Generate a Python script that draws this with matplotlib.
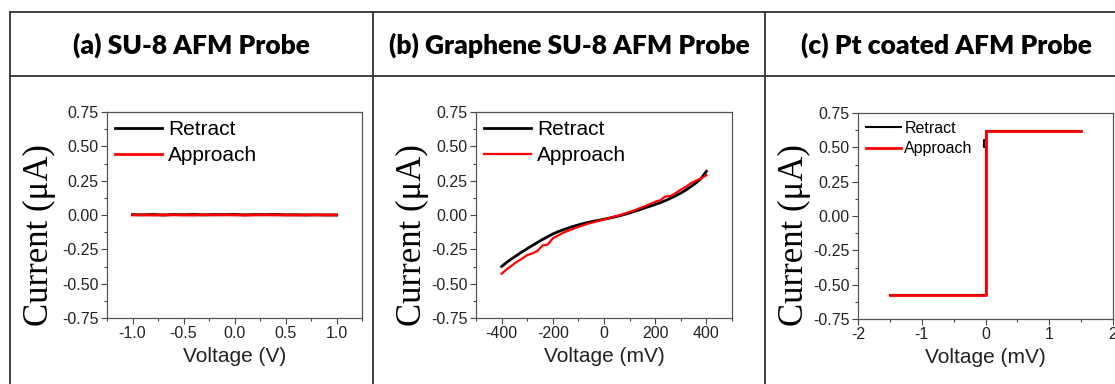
import numpy as np
import matplotlib
matplotlib.use("Agg")
import matplotlib.pyplot as plt
from matplotlib.lines import Line2D
from matplotlib.ticker import MultipleLocator, AutoMinorLocator

plt.rcParams["font.family"] = ["Liberation Sans", "DejaVu Sans"]
plt.rcParams["axes.unicode_minus"] = False

# --- data ---
titles = ["(a) SU-8 AFM Probe", "(b) Graphene SU-8 AFM Probe", "(c) Pt coated AFM Probe"]
xlabels = ["Voltage (V)", "Voltage (mV)", "Voltage (mV)"]

# (a) SU-8 probe: flat, essentially zero current
a_v = [-1.0, -0.9, -0.8, -0.7, -0.6, -0.5, -0.4, -0.3, -0.2, -0.1, 0.0,
       0.1, 0.2, 0.3, 0.4, 0.5, 0.6, 0.7, 0.8, 0.9, 1.0]
a_retract = [0.003, 0.001, 0.004, 0.000, 0.003, 0.002, 0.004, 0.001, 0.003, 0.002, 0.004,
             0.001, 0.003, 0.002, 0.004, 0.001, 0.002, 0.000, 0.001, 0.000, 0.000]
a_approach = [0.000, 0.001, -0.001, 0.000, 0.001, 0.000, -0.001, 0.001, 0.000, 0.001, 0.000,
              -0.001, 0.000, 0.001, 0.000, 0.000, -0.001, 0.000, 0.001, 0.000, 0.000]

# (b) Graphene SU-8 probe
b_v = list(range(-400, 401, 20))
b_retract = [-0.375, -0.345, -0.318, -0.293, -0.268, -0.245, -0.222, -0.200, -0.178, -0.158,
             -0.138, -0.122, -0.108, -0.095, -0.083, -0.072, -0.062, -0.053, -0.045, -0.038,
             -0.031, -0.023, -0.015, -0.006, 0.004, 0.015, 0.027, 0.039, 0.052, 0.064,
             0.077, 0.090, 0.105, 0.122, 0.140, 0.160, 0.182, 0.207, 0.235, 0.268, 0.318]
b_approach = [-0.428, -0.395, -0.368, -0.340, -0.318, -0.292, -0.280, -0.262, -0.222, -0.215,
              -0.170, -0.150, -0.130, -0.115, -0.100, -0.086, -0.074, -0.062, -0.052, -0.042,
              -0.033, -0.022, -0.012, -0.002, 0.010, 0.022, 0.035, 0.050, 0.064, 0.080,
              0.096, 0.108, 0.135, 0.138, 0.160, 0.185, 0.205, 0.232, 0.250, 0.268, 0.290]

# (c) Pt coated probe: step at 0 mV
c_retract_v = [-1.5, 0.0, 0.0, -0.03, -0.03, 0.0, 0.0, 1.5]
c_retract = [-0.575, -0.575, 0.50, 0.50, 0.55, 0.55, 0.62, 0.62]
c_approach_v = [-1.5, 0.0, 0.0, 1.5]
c_approach = [-0.575, -0.575, 0.62, 0.62]

W, H = 1115, 384
fig = plt.figure(figsize=(W / 100, H / 100), dpi=100)

# --- table frame ---
def hline(y, x0, x1):
    fig.add_artist(Line2D([x0 / W, x1 / W], [1 - y / H, 1 - y / H], color="#333333", lw=1.3))

def vline(x, y0, y1):
    fig.add_artist(Line2D([x / W, x / W], [1 - y0 / H, 1 - y1 / H], color="#333333", lw=1.3))

hline(12, 10, W)
hline(76, 10, W)
for xv in [10, 373, 765]:
    vline(xv, 12, H)

title_x = [191, 569, 946]
for tx, t in zip(title_x, titles):
    fig.text(tx / W, 1 - 45 / H, t, ha="center", va="center", fontsize=19,
             fontweight="heavy", family="Lato")

# --- axes ---
boxes = [(107, 362, 112, 318), (476, 732, 112, 318), (858, 1113, 113, 319)]
ylab_x = [39, 412, 794]
xlims = [(-1.25, 1.25), (-500, 500), (-2, 2)]
xmajor = [0.5, 200, 1]

for i, (l, r, t, b) in enumerate(boxes):
    ax = fig.add_axes([l / W, 1 - b / H, (r - l) / W, (b - t) / H])
    if i == 0:
        ax.plot(a_v, a_retract, color="black", lw=2, label="Retract")
        ax.plot(a_v, a_approach, color="#ff0000", lw=2, label="Approach")
    elif i == 1:
        ax.plot(b_v, b_retract, color="black", lw=2, label="Retract")
        ax.plot(b_v, b_approach, color="#ff0000", lw=1.6, label="Approach")
    else:
        ax.plot(c_retract_v, c_retract, color="black", lw=1.5, label="Retract")
        ax.plot(c_approach_v, c_approach, color="#ff0000", lw=2, label="Approach")

    ax.set_xlim(*xlims[i])
    ax.set_ylim(-0.75, 0.75)
    ax.xaxis.set_major_locator(MultipleLocator(xmajor[i]))
    ax.yaxis.set_major_locator(MultipleLocator(0.25))
    ax.xaxis.set_minor_locator(AutoMinorLocator(2))
    ax.yaxis.set_minor_locator(AutoMinorLocator(2))
    ax.yaxis.set_major_formatter(plt.FormatStrFormatter("%.2f"))
    if i == 0:
        ax.xaxis.set_major_formatter(plt.FormatStrFormatter("%.1f"))
    ax.tick_params(which="major", direction="out", length=4, width=0.8, color="#444444",
                   labelsize=11.5, labelcolor="#222222", pad=2)
    ax.tick_params(which="minor", direction="out", length=2.5, width=0.8, color="#444444")
    for s in ax.spines.values():
        s.set_color("#555555")
        s.set_linewidth(0.9)

    ax.set_xlabel(xlabels[i], fontsize=15, color="#222222", labelpad=4)
    fig.text(ylab_x[i] / W, 1 - 235 / H, "Current (\u03bcA)", rotation=90, ha="center",
             va="center", fontsize=25, family="Liberation Serif")

    if i < 2:
        ax.legend(loc="upper left", frameon=False, handlelength=2.25,
                  handletextpad=0.3, labelspacing=0.36, borderaxespad=0.0,
                  borderpad=0.38, prop={"size": 15})
    else:
        ax.legend(loc="upper left", frameon=False, handlelength=2.2,
                  handletextpad=0.2, labelspacing=0.33, borderaxespad=0.0,
                  borderpad=0.5, prop={"size": 11.5})

fig.savefig("out.png", dpi=100)
